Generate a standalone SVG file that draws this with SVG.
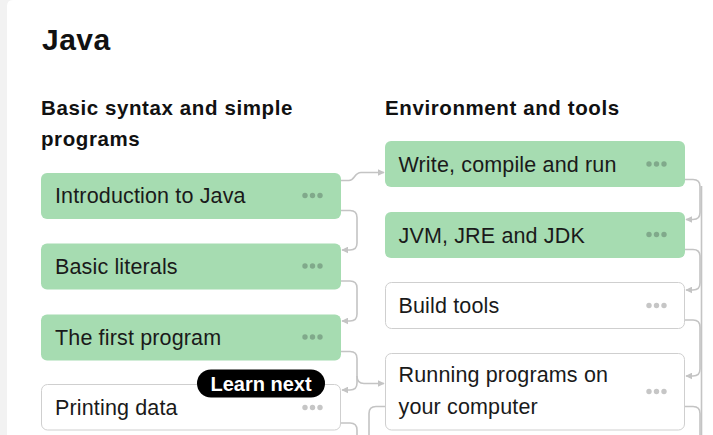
<svg xmlns="http://www.w3.org/2000/svg" width="713" height="435" viewBox="0 0 713 435">
<defs>
<style>
.title{font-family:"Liberation Sans",Arial,sans-serif;font-weight:bold;font-size:30px;letter-spacing:0.5px;fill:#111}
.sec{font-family:"Liberation Sans",Arial,sans-serif;font-weight:bold;font-size:20.5px;letter-spacing:0.6px;fill:#111}
.lbl{font-family:"Liberation Sans",Arial,sans-serif;font-size:21.5px;letter-spacing:0.15px;fill:#1a1a1a}
.done{fill:#a6dcb1}
.todo{fill:#fff;stroke:#cfcfcf;stroke-width:1}
.dg{fill:#80a98b}
.dw{fill:#c6c6c6}
.con{fill:none;stroke:#c4c4c4;stroke-width:1.6}
.badge{fill:#000}
.btxt{font-family:"Liberation Sans",Arial,sans-serif;font-weight:bold;font-size:20px;fill:#fff}
</style>
<marker id="ah" viewBox="0 0 10 10" refX="9" refY="5" markerWidth="7" markerHeight="7" markerUnits="userSpaceOnUse" orient="auto">
<path d="M0,0 L10,5 L0,10 z" fill="#c4c4c4"/>
</marker>
<g id="dots-g"><circle cx="0" cy="0" r="2.7"/><circle cx="7.5" cy="0" r="2.7"/><circle cx="15" cy="0" r="2.7"/></g>
</defs>
<rect x="0" y="0" width="713" height="435" fill="#f2f2f2"/>
<path d="M7 435 V6 Q7 0 13 0 H713 V435 Z" fill="#fff"/>
<text class="title" x="42" y="50">Java</text>
<text class="sec" x="41" y="115">Basic syntax and simple</text>
<text class="sec" x="41" y="146">programs</text>
<text class="sec" x="385" y="115">Environment and tools</text>

<g id="connectors">
<path class="con" d="M341 210.5 H350 Q357 210.5 357 217.5 V243 Q357 250 350 250 H342" marker-end="url(#ah)"/>
<path class="con" d="M341 281 H350 Q357 281 357 288 V314 Q357 321 350 321 H342" marker-end="url(#ah)"/>
<path class="con" d="M341 351.5 H350 Q357 351.5 357 358.5 V383 Q357 390 350 390 H342" marker-end="url(#ah)"/>
<path class="con" d="M357 376 Q357 383.5 364 383.5 H384" marker-end="url(#ah)"/>
<path class="con" d="M341 423 H350 Q357 423 357 430 V435"/>
<path class="con" d="M341 180.5 H349 C355 180.5 354 172.5 361 172.5 H384" marker-end="url(#ah)"/>
<path class="con" d="M685 179.5 H693 Q700 179.5 700 186.5 V212.5 Q700 219.5 693 219.5 H686" marker-end="url(#ah)"/>
<path class="con" d="M685 249.5 H693 Q700 249.5 700 256.5 V283 Q700 290 693 290 H686" marker-end="url(#ah)"/>
<path class="con" d="M685 320 H693 Q700 320 700 327 V369 Q700 376 693 376 H686" marker-end="url(#ah)"/>
<path class="con" d="M685 406.5 H693 Q700 406.5 700 413.5 V435"/>
<path class="con" d="M701.5 186 V435"/>
<path class="con" d="M385 406.5 H376 Q369 406.5 369 413.5 V435"/>
</g>

<g id="n-intro"><rect class="done" x="41" y="173" width="300" height="46" rx="6"/><text class="lbl" x="55" y="203">Introduction to Java</text><use href="#dots-g" class="dg" x="305" y="195.5"/></g>
<g id="n-literals"><rect class="done" x="41" y="243.5" width="300" height="46" rx="6"/><text class="lbl" x="55" y="273.5">Basic literals</text><use href="#dots-g" class="dg" x="305" y="266"/></g>
<g id="n-first"><rect class="done" x="41" y="314.5" width="300" height="46" rx="6"/><text class="lbl" x="55" y="344.5">The first program</text><use href="#dots-g" class="dg" x="305" y="337"/></g>
<g id="n-printing"><rect class="todo" x="41.5" y="384.5" width="299" height="45.5" rx="6"/><text class="lbl" x="55" y="415">Printing data</text><use href="#dots-g" class="dw" x="305" y="407.5"/></g>
<g id="badge"><rect class="badge" x="197" y="369.5" width="128" height="28" rx="14"/><text class="btxt" x="261" y="390.5" text-anchor="middle">Learn next</text></g>

<g id="n-write"><rect class="done" x="385" y="141" width="300" height="46" rx="6"/><text class="lbl" x="398.5" y="172">Write, compile and run</text><use href="#dots-g" class="dg" x="649" y="164"/></g>
<g id="n-jvm"><rect class="done" x="385" y="212" width="300" height="46" rx="6"/><text class="lbl" x="398.5" y="242.5">JVM, JRE and JDK</text><use href="#dots-g" class="dg" x="649" y="234.5"/></g>
<g id="n-build"><rect class="todo" x="385.5" y="282.5" width="299" height="46" rx="6"/><text class="lbl" x="398.5" y="313">Build tools</text><use href="#dots-g" class="dw" x="649" y="305.5"/></g>
<g id="n-running"><rect class="todo" x="385.5" y="353.5" width="299" height="76.5" rx="6"/><text class="lbl" x="398.5" y="382">Running programs on</text><text class="lbl" x="398.5" y="414">your computer</text><use href="#dots-g" class="dw" x="649" y="391.5"/></g>
</svg>
